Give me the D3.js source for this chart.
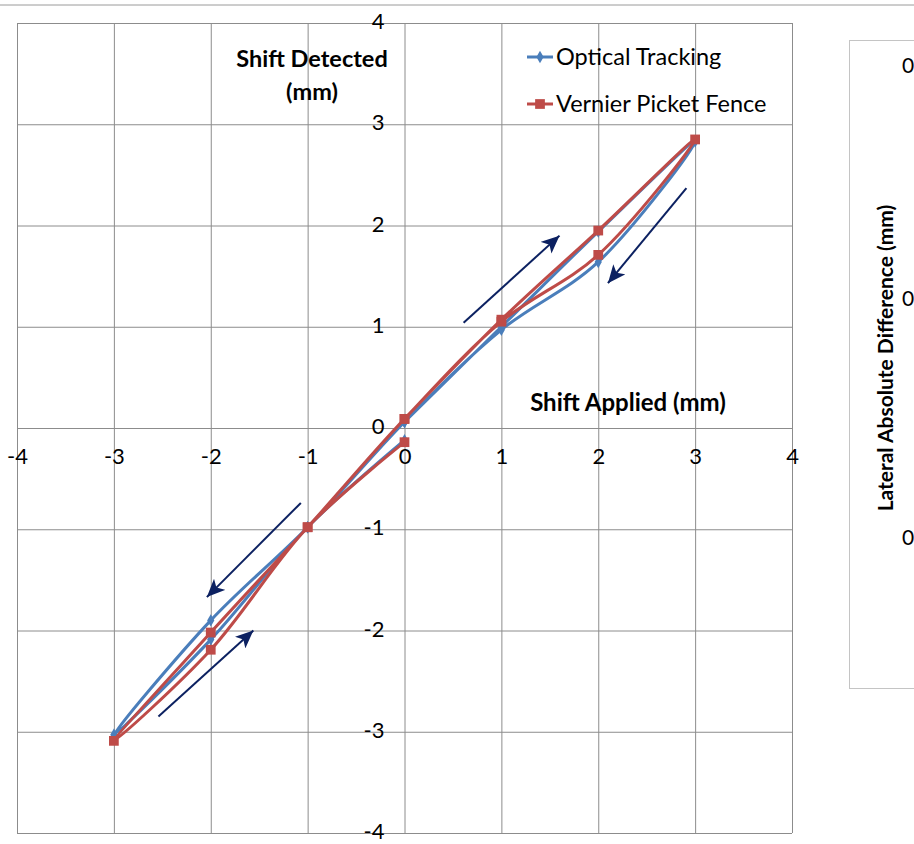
<!DOCTYPE html>
<html lang="en">
<head>
	<meta charset="UTF-8">
	<title>Shift Detected vs Shift Applied</title>
	<style>
		body { margin: 0; background: #fff; }
		text { font-family: Lato, "Liberation Sans", sans-serif; fill: #000; }
	</style>
	<script src="https://d3js.org/d3.v7.min.js"></script>
</head>
<body>
	<script type="text/javascript">
		// applied shift sequence (mm): up to +3, down to -3, back to 0
		const applied = [0, 1, 2, 3, 2, 1, 0, -1, -2, -3, -2, -1, 0];
		const optical = [0.06, 1.00, 1.94, 2.83, 1.64, 0.97, 0.06, -0.98, -1.90, -3.03, -2.09, -0.98, -0.12];
		const vernier = [0.09, 1.07, 1.95, 2.85, 1.71, 1.05, 0.09, -0.98, -2.02, -3.09, -2.19, -0.98, -0.14];

		const xTicks = [-4, -3, -2, -1, 0, 1, 2, 3, 4];
		const yTicks = [-4, -3, -2, -1, 0, 1, 2, 3, 4];

		const seriesNames = ["Optical Tracking", "Vernier Picket Fence"];
		const seriesColors = ["#4a7ebb", "#be4b48"];

		// direction arrows, [x1, y1, x2, y2] in mm
		const arrows = [
			[0.61, 1.04, 1.60, 1.90],
			[2.91, 2.37, 2.10, 1.43],
			[-1.07, -0.74, -2.04, -1.67],
			[-2.54, -2.85, -1.56, -2.00]
		];

		let width = 914;
		let height = 844;

		const svg = d3.select("body").append("svg")
			.attr("width", width)
			.attr("height", height);

		const x = d3.scaleLinear().domain([-4, 4]).range([17, 792]);
		const y = d3.scaleLinear().domain([-4, 4]).range([833, 23]);

		// frame line at the top of the page
		svg.append("line")
			.attr("x1", 0).attr("x2", width)
			.attr("y1", 5).attr("y2", 5)
			.style("stroke", "#9a9a9a");

		// right hand panel (next chart, cut off)
		svg.append("rect")
			.attr("x", 849.5).attr("y", 40.5)
			.attr("width", 120).attr("height", 648)
			.style("fill", "#fff")
			.style("stroke", "#c4c4c4");

		svg.append("text")
			.attr("transform", "translate(893,358) rotate(-90)")
			.attr("text-anchor", "middle")
			.style("font-weight", "bold")
			.style("font-size", "21px")
			.text("Lateral Absolute Difference (mm)");

		svg.selectAll(".cutlabel")
			.data([65, 298, 537])
			.join("text")
			.attr("class", "cutlabel")
			.attr("x", 902)
			.attr("y", d => d + 8)
			.style("font-size", "21px")
			.text("0");

		// grid
		svg.append("g")
			.attr("class", "grid")
			.attr("transform", `translate(0,${y(-4)})`)
			.call(d3.axisBottom(x).tickValues(xTicks).tickSize(-(y(-4) - y(4))).tickFormat(""));

		svg.append("g")
			.attr("class", "grid")
			.attr("transform", `translate(${x(-4)},0)`)
			.call(d3.axisLeft(y).tickValues(yTicks).tickSize(-(x(4) - x(-4))).tickFormat(""));

		svg.selectAll(".grid .domain").remove();
		svg.selectAll(".grid line")
			.style("stroke", "#8c8c8c")
			.style("stroke-width", 1);

		// tick labels sitting on the zero axes
		const xAxis = svg.append("g")
			.attr("transform", `translate(0,${y(0)})`)
			.call(d3.axisBottom(x).tickValues(xTicks).tickSize(0).tickPadding(20).tickFormat(d3.format("d")));

		const yAxis = svg.append("g")
			.attr("transform", `translate(${x(0)},0)`)
			.call(d3.axisLeft(y).tickValues(yTicks).tickSize(0).tickPadding(20).tickFormat(d3.format("d")));

		[xAxis, yAxis].forEach(g => {
			g.select(".domain").remove();
			g.selectAll("text")
				.style("font-size", "22px")
				.style("font-family", "Lato, sans-serif")
				.attr("fill", "#000");
		});
		xAxis.selectAll("text").text(d => d < 0 ? "-" + Math.abs(d) : d);
		yAxis.selectAll("text")
			.attr("dy", "0.26em")
			.text(d => d < 0 ? "-" + Math.abs(d) : d);

		// axis titles
		svg.append("text")
			.attr("x", 312).attr("y", 67)
			.attr("text-anchor", "middle")
			.style("font-weight", "bold").style("font-size", "23.5px")
			.text("Shift Detected");
		svg.append("text")
			.attr("x", 312).attr("y", 100)
			.attr("text-anchor", "middle")
			.style("font-weight", "bold").style("font-size", "23.5px")
			.text("(mm)");
		svg.append("text")
			.attr("x", 628).attr("y", 411)
			.attr("text-anchor", "middle")
			.style("font-weight", "bold").style("font-size", "24px")
			.text("Shift Applied (mm)");

		// series
		const line = d3.line()
			.x(d => x(d[0]))
			.y(d => y(d[1]))
			.curve(d3.curveCatmullRom.alpha(0.5));

		const series = [optical, vernier].map((vals, i) => ({
			name: seriesNames[i],
			color: seriesColors[i],
			points: applied.map((a, j) => [a, vals[j]])
		}));

		series.forEach((s, i) => {
			svg.append("path")
				.datum(s.points)
				.attr("d", line)
				.style("fill", "none")
				.style("stroke", s.color)
				.style("stroke-width", 3);

			const sym = i === 0 ? d3.symbolDiamond : d3.symbolSquare;
			const size = i === 0 ? 45 : 95;
			svg.selectAll(".mark" + i)
				.data(s.points)
				.join("path")
				.attr("class", "mark" + i)
				.attr("transform", d => `translate(${x(d[0])},${y(d[1])})`)
				.attr("d", d3.symbol().type(sym).size(size))
				.style("fill", s.color);
		});

		// arrows
		const defs = svg.append("defs");
		defs.append("marker")
			.attr("id", "head")
			.attr("markerUnits", "userSpaceOnUse")
			.attr("viewBox", "0 0 16 14")
			.attr("refX", 16).attr("refY", 7)
			.attr("markerWidth", 18).attr("markerHeight", 16)
			.attr("orient", "auto")
			.append("path")
			.attr("d", "M0,0 L16,7 L0,14 L4,7 Z")
			.style("fill", "#0c2161");

		svg.selectAll(".arrow")
			.data(arrows)
			.join("line")
			.attr("class", "arrow")
			.attr("x1", d => x(d[0]))
			.attr("y1", d => y(d[1]))
			.attr("x2", d => x(d[2]))
			.attr("y2", d => y(d[3]))
			.style("stroke", "#0c2161")
			.style("stroke-width", 2)
			.attr("marker-end", "url(#head)");

		// legend
		const legend = svg.append("g");
		series.forEach((s, i) => {
			const ly = 57 + i * 47;
			legend.append("line")
				.attr("x1", 527).attr("x2", 553)
				.attr("y1", ly).attr("y2", ly)
				.style("stroke", s.color)
				.style("stroke-width", 3);
			legend.append("path")
				.attr("transform", `translate(540,${ly})`)
				.attr("d", d3.symbol().type(i === 0 ? d3.symbolDiamond : d3.symbolSquare).size(i === 0 ? 45 : 95))
				.style("fill", s.color);
			legend.append("text")
				.attr("x", 556).attr("y", ly + 8)
				.style("font-size", "23.5px")
				.text(s.name);
		});
	</script>
</body>
</html>
